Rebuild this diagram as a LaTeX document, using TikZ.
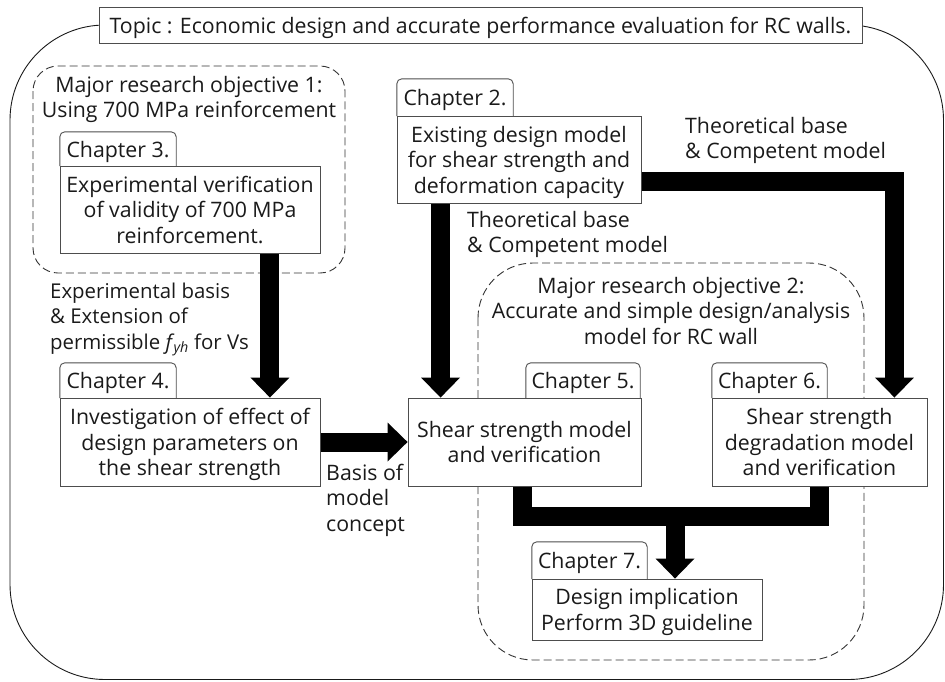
\documentclass[tikz,border=0pt]{standalone}
\usepackage{fontspec}
\setmainfont{Open Sans}
\usetikzlibrary{arrows.meta}
\pgfdeclarelayer{background}
\pgfsetlayers{background,main}
\definecolor{ink}{HTML}{1A1A1A}
\definecolor{edge}{HTML}{4D4D4D}
\definecolor{dashgray}{HTML}{333333}
% taller strut for the first line, so text sits a little low in its box
\newcommand\tstrut{\rule{0pt}{23.65pt}}
\begin{document}
\begin{tikzpicture}[x=1pt,y=-1pt,
  font=\fontsize{21.3}{25.5}\selectfont, text=ink,
  box/.style={draw=edge, line width=0.9pt, fill=white, align=center,
              inner xsep=1pt, inner ysep=0pt},
  tabtext/.style={inner sep=0pt},
  tabline/.style={draw=edge, line width=0.9pt, rounded corners=5pt},
  group/.style={draw=dashgray, line width=0.9pt, dash pattern=on 8pt off 4pt},
  label/.style={align=left, anchor=north west, inner sep=0pt},
  heading/.style={align=center, anchor=north, inner sep=0pt},
  bigbar/.style={draw=black, line width=19pt},
  bigarrow/.style={bigbar, -{Triangle[width=39pt,length=20pt,line width=0pt]}},
]
\useasboundingbox (0,0) rectangle (945,681);

% title
\node[box, minimum width=763pt, minimum height=36pt] (topic) at (480.5,25)
  {\tstrut Topic : Economic design and accurate performance evaluation for RC walls.\strut};

% group headings
\node[heading] (obj1) at (189,74.15)
  {\strut Major research objective 1:\\Using 700 MPa reinforcement};
\node[heading] (obj2) at (671,275.15)
  {\strut Major research objective 2:\\Accurate and simple design/analysis\\model for RC wall};

% chapter boxes
\node[box, minimum width=244pt, minimum height=87pt] (ch2) at (519,159.5)
  {\tstrut Existing design model\\for shear strength and\\deformation capacity\strut};
\node[box, minimum width=260pt, minimum height=87pt] (ch3) at (190,209.5)
  {\tstrut Experimental verification\\of validity of 700 MPa\\reinforcement.\strut};
\node[box, minimum width=260pt, minimum height=88pt] (ch4) at (190,442)
  {\tstrut Investigation of effect of\\design parameters on\\the shear strength\strut};
\node[box, minimum width=233pt, minimum height=88pt] (ch5) at (524.5,442)
  {\tstrut Shear strength model\\and verification\strut};
\node[box, minimum width=215pt, minimum height=88pt] (ch6) at (819.5,442)
  {\tstrut Shear strength\\degradation model\\and verification\strut};
\node[box, minimum width=230pt, minimum height=61pt] (ch7) at (647,609.5)
  {\tstrut Design implication\\Perform 3D guideline\strut};

% chapter tabs
\node[tabtext, minimum width=116pt, minimum height=37pt] (t2) at (455,97.5) {\tstrut Chapter 2.\strut};
\node[tabtext, minimum width=116pt, minimum height=34pt] (t3) at (118,149) {\tstrut Chapter 3.\strut};
\node[tabtext, minimum width=116pt, minimum height=35pt] (t4) at (118,380.5) {\tstrut Chapter 4.\strut};
\node[tabtext, minimum width=114pt, minimum height=35pt] (t5) at (583,380.5) {\tstrut Chapter 5.\strut};
\node[tabtext, minimum width=115pt, minimum height=35pt] (t6) at (769.5,380.5) {\tstrut Chapter 6.\strut};
\node[tabtext, minimum width=115pt, minimum height=37pt] (t7) at (589.5,560.5) {\tstrut Chapter 7.\strut};
\foreach \t in {t2,t3,t4,t5,t6,t7}
  \draw[tabline] (\t.south west) -- (\t.north west) -- (\t.north east) -- (\t.south east);

% connector labels
\node[label, font=\fontsize{20.4}{25.5}\selectfont] (lab1) at (50,280.15)
  {\strut Experimental basis\\\& Extension of\\permissible \textit{f}\kern-1pt\textsubscript{\textit{yh}} for Vs};
\node[label] (lab2) at (685,115.15) {\strut Theoretical base\\\& Competent model};
\node[label] (lab3) at (467,209.15) {\strut Theoretical base\\\& Competent model};
\node[label] (lab4) at (326,462.15) {\strut Basis of\\model\\concept};

% anchor points for the thick connectors
\coordinate (c4) at ([xshift=-50.5pt]ch4.north east);
\coordinate (a5) at ([xshift=33pt]ch5.north west);
\coordinate (b6) at ([xshift=-33pt]ch6.north east);
\coordinate (m5) at ([xshift=-2pt]ch5.south);
\coordinate (jn) at (675,516);

\begin{pgfonlayer}{background}
  % outer frame and dashed groups
  \draw[draw=ink, line width=0.9pt, rounded corners=95pt] (10,25) rectangle (943.5,679.5);
  \draw[group, rounded corners=25pt] (33,66) rectangle (345,273);
  \draw[group, rounded corners=55pt] (478,263) rectangle (864,660);
  % thick connectors
  \draw[bigarrow] (c4 |- ch3.south) -- (c4);
  \draw[bigarrow] (a5 |- ch2.south) -- (a5);
  \draw[bigarrow] ([yshift=-22pt]ch2.east) -| (b6);
  \draw[bigarrow] (ch4.east) -- (ch5.west);
  \draw[bigbar] (m5) -- ++(0,30) -| (ch6.south);
  \draw[bigarrow] (jn) -- (jn |- ch7.north);
\end{pgfonlayer}
\end{tikzpicture}
\end{document}
